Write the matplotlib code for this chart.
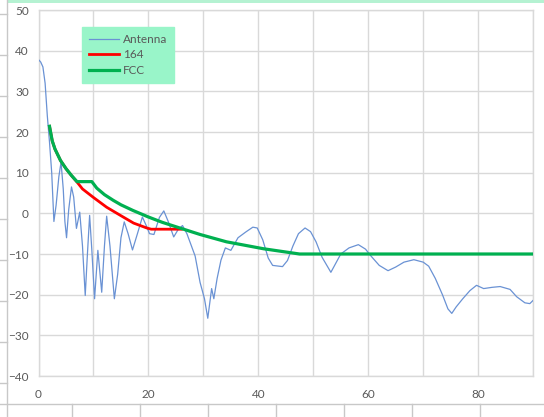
import matplotlib
matplotlib.use("Agg")
import matplotlib.pyplot as plt
from matplotlib.lines import Line2D
from matplotlib.patches import Rectangle

plt.rcParams['font.family'] = ['Lato', 'DejaVu Sans']

ant_x = [0, 0.4, 0.8, 1.2, 1.6, 2.0, 2.4, 2.8, 3.2, 3.7, 4.1, 4.5, 4.8, 5.1, 5.5,
         6.0, 6.4, 6.9, 7.5, 8.0, 8.5, 8.9, 9.3, 9.7, 10.2, 10.8, 11.5, 12.0, 12.4,
         13.0, 13.8, 14.4, 15.0, 15.6, 16.3, 17.1, 18.0, 18.9, 19.6, 20.2, 21.0,
         22.0, 22.8, 23.6, 24.6, 25.4, 26.2, 27.0, 27.9, 28.5, 29.4, 30.2, 30.8,
         31.5, 31.9, 32.5, 33.2, 34.0, 35.0, 36.3, 37.7, 39.0, 39.8, 40.8, 41.8,
         42.6, 44.4, 45.3, 46.3, 47.3, 48.5, 49.5, 50.5, 51.6, 53.2, 54.2, 55.0,
         56.5, 58.2, 59.5, 60.5, 62.0, 63.6, 65.0, 66.5, 68.3, 70.0, 71.0, 72.2,
         73.5, 74.5, 75.2, 76.0, 77.2, 78.5, 79.7, 81.0, 82.5, 84.0, 85.8, 87.0,
         88.5, 89.4, 90.0]
ant_y = [37.8, 37.2, 36, 32, 24, 17.5, 10, -2, 2, 9, 12.6, 6, -2, -6, 1,
         6.5, 4, -3.7, 0.3, -8, -20.2, -10, -0.5, -9, -21, -9.1, -19.4, -8, -0.7,
         -8, -21, -15, -6, -2.1, -5, -9, -5, -0.9, -3, -5, -5.2,
         -1, 0.6, -2, -5.8, -4, -3, -5, -8.3, -10.5, -17, -21, -25.8,
         -18.5, -21, -16, -11.5, -8.5, -9.1, -6, -4.6, -3.4, -3.6, -6.5, -11,
         -12.8, -13.1, -11.6, -8, -5, -3.6, -4.5, -7, -10.8, -14.5, -12, -10,
         -8.5, -7.7, -8.8, -10.5, -12.8, -14.1, -13.2, -12, -11.4, -12, -13, -16,
         -20, -23.5, -24.6, -23, -21, -19, -17.7, -18.5, -18.2, -18, -18.7, -20.5,
         -22, -22.2, -21.4]

# "164" limit
l164_x = [2, 2.5, 3, 4, 5, 6, 7, 8, 10, 12.4, 14.9, 17.3, 19.7, 20.5, 26]
l164_y = [21.4, 17.8, 15.8, 13, 11, 9.3, 7.7, 6, 3.9, 1.5, -0.5, -2.4, -3.6, -3.9, -3.9]

# FCC limit
fcc_x = [2, 2.5, 3, 4, 5, 6, 7, 9.7, 10.6, 12, 13.6, 15, 17.2, 20, 22.5,
         25.7, 29.4, 34.2, 40.9, 47.5, 90]
fcc_y = [21.4, 17.8, 15.8, 13, 11, 9.3, 7.8, 7.8, 6.2, 4.6, 3.2, 2.1, 0.7, -0.9, -2.2,
         -3.6, -5.2, -7.0, -8.7, -10, -10]

xticks = list(range(0, 91, 10))
xlabels = [str(v) if v % 20 == 0 else "" for v in xticks]
yticks = list(range(-40, 51, 10))

grid_c = "#D9D9D9"
txt_c = "#595959"

fig = plt.figure(figsize=(5.44, 4.17), dpi=100)
fig.patch.set_facecolor("white")

# spreadsheet bits around the chart
fig.add_artist(Rectangle((0.013, 0.993), 0.987, 0.007, transform=fig.transFigure,
                         color="#B5F2D2", lw=0))
fig.add_artist(Line2D([0.013, 0.013], [0, 1], transform=fig.transFigure,
                      color="#C8C8C8", lw=1))
fig.add_artist(Line2D([0, 1], [0.03, 0.03], transform=fig.transFigure,
                      color="#C8C8C8", lw=1))
for px in range(72, 544, 68):
    fig.add_artist(Line2D([px / 544, px / 544], [0, 0.03], transform=fig.transFigure,
                          color="#C8C8C8", lw=1))
for py in range(14, 417, 41):
    fig.add_artist(Line2D([0, 0.013], [1 - py / 417, 1 - py / 417],
                          transform=fig.transFigure, color="#C8C8C8", lw=1))

ax = fig.add_axes([0.0708, 0.0983, 0.9092, 0.8777])
ax.plot(ant_x, ant_y, color="#6A92D4", lw=0.9, label="Antenna", zorder=3)
ax.plot(l164_x, l164_y, color="#FF0000", lw=2.0, label="164", zorder=4)
ax.plot(fcc_x, fcc_y, color="#00B050", lw=2.3, label="FCC", zorder=5)

ax.set_xlim(0, 90)
ax.set_ylim(-40, 50)
ax.set_xticks(xticks)
ax.set_xticklabels(xlabels)
ax.set_yticks(yticks)
ax.grid(True, color=grid_c, lw=1)
ax.tick_params(length=0, labelsize=8.5, colors=txt_c)
ax.tick_params(axis="x", pad=9)
ax.tick_params(axis="y", pad=7)
for s in ax.spines.values():
    s.set_color(grid_c)
    s.set_linewidth(1)

leg = ax.legend(loc="upper left", bbox_to_anchor=(0.088, 0.953), frameon=True,
                fancybox=False, framealpha=1, fontsize=8.5, handlelength=2.6,
                handletextpad=0.3, labelspacing=0.4, borderpad=0.55,
                borderaxespad=0)
leg.get_frame().set_facecolor("#99F5C9")
leg.get_frame().set_edgecolor("#99F5C9")
for t in leg.get_texts():
    t.set_color(txt_c)

fig.savefig("out.png", dpi=100)
